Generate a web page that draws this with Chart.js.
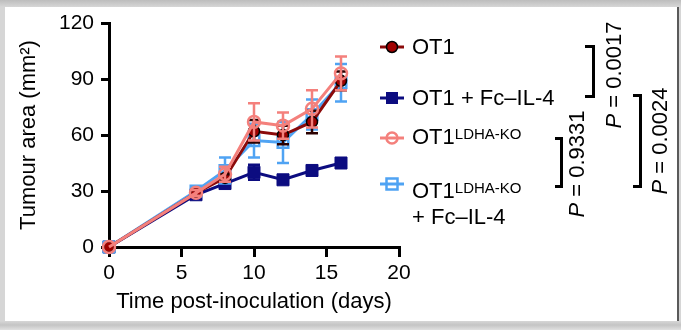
<!DOCTYPE html>
<html>
<head>
<meta charset="utf-8">
<script src="https://cdn.jsdelivr.net/npm/chart.js@4"></script>
<style>
  html, body { margin: 0; padding: 0; }
  body { width: 681px; height: 330px; position: relative; overflow: hidden;
         background: linear-gradient(#bdbdbd, #d6d6d6 7px, #d6d6d6 321px, #c4c4c4 325px, #e0e0e0 330px);
         font-family: "Liberation Sans", Arial, sans-serif; color: #000; }
  #panel { position: absolute; left: 5px; top: 7px; width: 672px; height: 314px; background: #fff;
           border-right: 2px solid #5a5a5a; }
  #wrap { position: absolute; left: 0; top: 0; width: 681px; height: 330px; }
  .lg { position: absolute; font-size: 22px; line-height: 22px; white-space: nowrap; }
  .sup { font-size: 15px; position: relative; top: -5px; }
  .mk { position: absolute; }
  .br { position: absolute; border: 3px solid #000; border-left: none; box-sizing: border-box; }
  .pv { position: absolute; font-size: 22px; line-height: 22px; white-space: nowrap;
        transform: translate(-50%, -50%) rotate(-90deg); }
</style>
</head>
<body>
<div id="panel"></div>
<div id="wrap"><canvas id="c" width="681" height="330"></canvas></div>

<svg class="mk" style="left:378px;top:35px" width="28" height="24" viewBox="0 0 28 24">
  <line x1="2" y1="12" x2="26" y2="12" stroke="#8b0a0a" stroke-width="3"/>
  <circle cx="14" cy="12" r="5.5" fill="#a00000" stroke="#000" stroke-width="1.5"/>
</svg>
<svg class="mk" style="left:378px;top:86px" width="28" height="24" viewBox="0 0 28 24">
  <line x1="2" y1="12" x2="26" y2="12" stroke="#0c0c80" stroke-width="3"/>
  <rect x="8" y="6" width="12" height="12" fill="#0c0c80"/>
</svg>
<svg class="mk" style="left:378px;top:126px" width="28" height="24" viewBox="0 0 28 24">
  <line x1="2" y1="12" x2="26" y2="12" stroke="#f4807c" stroke-width="3"/>
  <circle cx="14" cy="12" r="5.5" fill="none" stroke="#f4807c" stroke-width="2.5"/>
</svg>
<svg class="mk" style="left:378px;top:172px" width="28" height="24" viewBox="0 0 28 24">
  <line x1="2" y1="12" x2="26" y2="12" stroke="#4fa3f3" stroke-width="3"/>
  <rect x="8.5" y="6.5" width="11" height="11" fill="none" stroke="#4fa3f3" stroke-width="2.5"/>
</svg>

<div class="lg" style="left:412px;top:36px">OT1</div>
<div class="lg" style="left:412px;top:87px">OT1 + Fc–IL-4</div>
<div class="lg" style="left:412px;top:126px">OT1<span class="sup">LDHA-KO</span></div>
<div class="lg" style="left:412px;top:180px">OT1<span class="sup">LDHA-KO</span></div>
<div class="lg" style="left:412px;top:206px">+ Fc–IL-4</div>

<div class="br" style="left:585px;top:45px;width:10px;height:53px"></div>
<div class="br" style="left:555px;top:137px;width:8px;height:51px"></div>
<div class="br" style="left:633px;top:94px;width:9px;height:94px"></div>

<div class="pv" style="left:614px;top:75px"><i>P</i> = 0.0017</div>
<div class="pv" style="left:577px;top:164px"><i>P</i> = 0.9331</div>
<div class="pv" style="left:660px;top:141px"><i>P</i> = 0.0024</div>

<script>
// ---- data ----
const days = [0, 6, 8, 10, 12, 14, 16];
const ot1 = [0, 29, 37, 62, 60, 67, 89];
const ot1Err = [0, 1.5, 2, 6, 5, 6, 5];
const ot1Fc = [0, 28, 34, 40, 36, 41, 45];
const ot1FcErr = [0, 1, 1.5, 4, 2, 1.5, 2];
const ldha = [0, 29, 39, 67, 65, 74, 93];
const ldhaErr = [0, 1.5, 4, 10, 7, 10, 9];
const ldhaFc = [0, 30, 41, 57, 56, 71, 88];
const ldhaFcErr = [0, 2, 7, 9, 11, 8, 10];
const yTicks = [0, 30, 60, 90, 120];
const xTicks = [0, 5, 10, 15, 20];

const FONT = '"Liberation Sans", Arial, sans-serif';

function pts(vals) { return days.map((d, i) => ({ x: d, y: vals[i] })); }

const errorBars = {
  id: 'errorBars',
  afterDatasetDraw(chart, args) {
    const ds = chart.data.datasets[args.index];
    if (!ds.err) return;
    const xs = chart.scales.x, ys = chart.scales.y;
    const ctx = chart.ctx;
    ctx.save();
    ctx.strokeStyle = ds.errColor;
    ctx.lineWidth = 2.5;
    ds.data.forEach((p, i) => {
      const e = ds.err[i];
      if (!e) return;
      const px = xs.getPixelForValue(p.x);
      const top = ys.getPixelForValue(p.y + e);
      const bot = ys.getPixelForValue(p.y - e);
      ctx.beginPath();
      ctx.moveTo(px, top); ctx.lineTo(px, bot);
      ctx.moveTo(px - 6, top); ctx.lineTo(px + 6, top);
      ctx.moveTo(px - 6, bot); ctx.lineTo(px + 6, bot);
      ctx.stroke();
    });
    ctx.restore();
  }
};

new Chart(document.getElementById('c'), {
  type: 'line',
  data: {
    datasets: [
      { label: 'OT1LDHA-KO', data: pts(ldha), err: ldhaErr, errColor: '#f4807c',
        borderColor: '#f4807c', borderWidth: 3, pointStyle: 'circle', pointRadius: 6,
        pointBorderWidth: 2.5, pointBackgroundColor: 'rgba(255,255,255,0)', pointBorderColor: '#f4807c',
        order: 0, clip: false },
      { label: 'OT1', data: pts(ot1), err: ot1Err, errColor: '#2a0000',
        borderColor: '#8b0a0a', borderWidth: 3, pointStyle: 'circle', pointRadius: 5.5,
        pointBorderWidth: 1.5, pointBackgroundColor: '#a00000', pointBorderColor: '#000',
        order: 1, clip: false },
      { label: 'OT1LDHA-KO + Fc-IL-4', data: pts(ldhaFc), err: ldhaFcErr, errColor: '#4fa3f3',
        borderColor: '#4fa3f3', borderWidth: 3, pointStyle: 'rect', pointRadius: 7.5,
        pointBorderWidth: 2.5, pointBackgroundColor: 'rgba(255,255,255,0)', pointBorderColor: '#4fa3f3',
        order: 2, clip: false },
      { label: 'OT1 + Fc-IL-4', data: pts(ot1Fc), err: ot1FcErr, errColor: '#0c0c80',
        borderColor: '#0c0c80', borderWidth: 3, pointStyle: 'rect', pointRadius: 8.5,
        pointBorderWidth: 1, pointBackgroundColor: '#0c0c80', pointBorderColor: '#0c0c80',
        order: 3, clip: false }
    ]
  },
  options: {
    responsive: false,
    animation: false,
    events: [],
    layout: { padding: { top: 23, right: 282, left: 0, bottom: 0 } },
    plugins: { legend: { display: false }, tooltip: { enabled: false } },
    scales: {
      x: {
        type: 'linear', min: 0, max: 20,
        afterFit(s) { s.height = 83; },
        afterBuildTicks(s) { s.ticks = xTicks.map(v => ({ value: v })); },
        grid: { display: true, drawOnChartArea: false, drawTicks: true, tickLength: 10, color: '#000', lineWidth: 3 },
        border: { display: true, color: '#000', width: 3 },
        ticks: { color: '#000', font: { family: FONT, size: 21 }, padding: 4, maxRotation: 0 },
        title: { display: true, text: 'Time post-inoculation (days)', color: '#000',
                 font: { family: FONT, size: 22 }, padding: { top: 0, bottom: 15 } }
      },
      y: {
        min: 0, max: 120,
        afterFit(s) { s.width = 109; },
        afterBuildTicks(s) { s.ticks = yTicks.map(v => ({ value: v })); },
        grid: { display: true, drawOnChartArea: false, drawTicks: true, tickLength: 8, color: '#000', lineWidth: 3 },
        border: { display: true, color: '#000', width: 3 },
        ticks: { color: '#000', font: { family: FONT, size: 21 }, padding: 7 },
        title: { display: true, text: 'Tumour area (mm²)', color: '#000',
                 font: { family: FONT, size: 22 }, padding: { top: 16, bottom: 0 } }
      }
    }
  },
  plugins: [errorBars]
});
</script>
</body>
</html>
